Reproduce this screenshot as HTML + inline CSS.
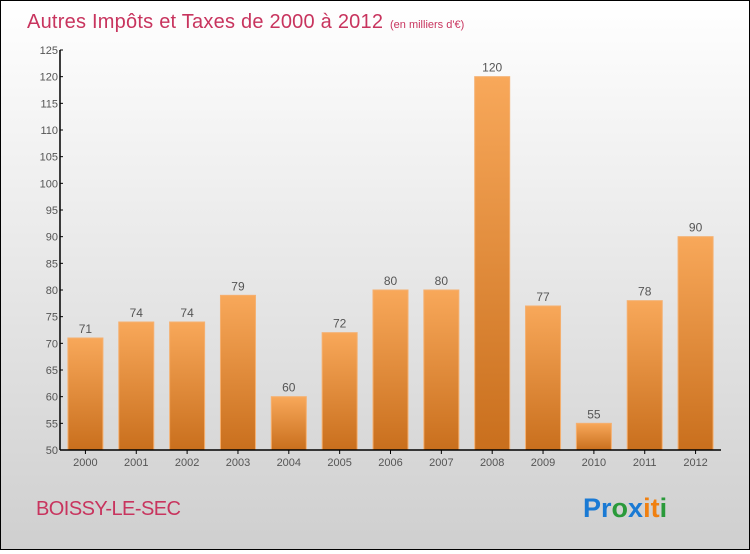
<!DOCTYPE html>
<html><head><meta charset="utf-8"><style>
html,body{margin:0;padding:0}
body{width:750px;height:550px;overflow:hidden;font-family:"Liberation Sans",sans-serif}
#wrap{position:absolute;left:0;top:0;width:748px;height:548px;border:1px solid #000;background:linear-gradient(#ffffff,#cfcfcf)}
</style></head><body>
<div id="wrap">
<svg id="chart" width="748" height="548">
<defs>
<linearGradient id="bg" x1="0" y1="0" x2="0" y2="1"><stop offset="0" stop-color="#f8a85a"/><stop offset="1" stop-color="#c96f1d"/></linearGradient>
</defs>
<text x="26" y="27" font-size="20" fill="#c8345e" textLength="356">Autres Impôts et Taxes de 2000 à 2012</text>
<text x="389" y="27" font-size="11" fill="#c8345e">(en milliers d'€)</text>
<text x="35" y="514" font-size="20" fill="#c8345e" textLength="145">BOISSY-LE-SEC</text>
<g font-size="27" font-weight="bold" font-family="Liberation Sans, sans-serif">
<text x="582" y="516"><tspan fill="#1a7ad4">Pr</tspan><tspan fill="#2a9a3a">o</tspan><tspan fill="#1a7ad4">x</tspan><tspan fill="#f08010">i</tspan><tspan fill="#f08010">t</tspan><tspan fill="#2a9a3a">i</tspan></text>
</g>
<g id="plot"></g>
</svg>
</div>
<script>
const years=["2000","2001","2002","2003","2004","2005","2006","2007","2008","2009","2010","2011","2012"];
const values=[71,74,74,79,60,72,80,80,120,77,55,78,90];
const yTicks=[50,55,60,65,70,75,80,85,90,95,100,105,110,115,120,125];
const NS="http://www.w3.org/2000/svg";
const g=document.getElementById('plot');
const x0=59,x1=720,yMin=50,yMax=125,py0=449,py1=49;
const band=(x1-x0)/years.length;
const ys=v=>py0-(v-yMin)/(yMax-yMin)*(py0-py1);
const xs=i=>x0+band*(i+0.5);
function mk(t,a){const e=document.createElementNS(NS,t);for(const k in a)e.setAttribute(k,a[k]);g.appendChild(e);return e;}
values.forEach((v,i)=>{
 const r=mk('rect',{x:xs(i)-17.5,y:ys(v),width:35,height:py0-ys(v),fill:'url(#bg)',stroke:'#f5b070','stroke-width':1});
 
 
 const t=mk('text',{x:xs(i),y:ys(v)-5,'text-anchor':'middle','font-size':12,fill:'#555'});
 t.textContent=v;
 
 
 const tk=mk('line',{x1:xs(i),x2:xs(i),y1:py0,y2:py0+4,stroke:'#000'});
 
 
 const xl=mk('text',{x:xs(i),y:py0+16,'text-anchor':'middle','font-size':11,fill:'#555'});
 xl.textContent=years[i];
 
 
});
yTicks.forEach(v=>{
 const tk=mk('line',{x1:x0,x2:x0+3,y1:ys(v),y2:ys(v),stroke:'#000'});
 
 
 const l=mk('text',{x:x0-2,y:ys(v)+4,'text-anchor':'end','font-size':11,fill:'#555'});
 l.textContent=v;
 
 
});
const ya=mk('line',{x1:x0,x2:x0,y1:py1,y2:py0,stroke:'#000','stroke-width':1.5});


const xa=mk('line',{x1:x0,x2:x1,y1:py0,y2:py0,stroke:'#000','stroke-width':1.5});


</script>
</body></html>
